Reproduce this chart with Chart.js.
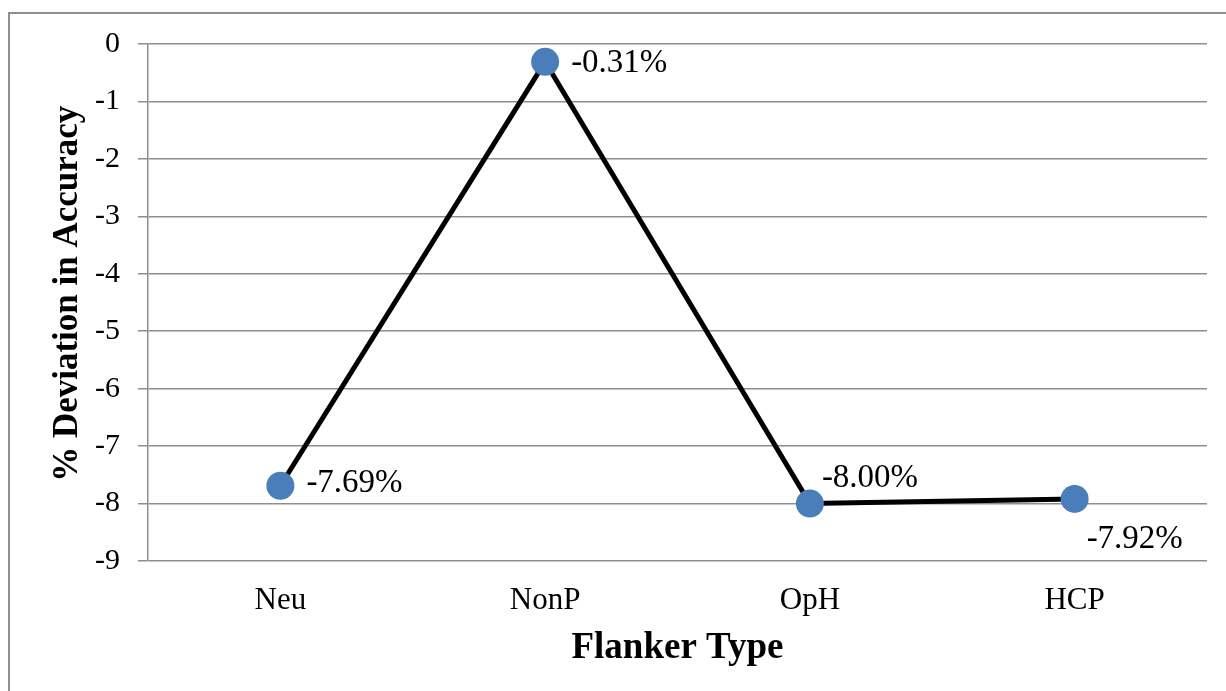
<!DOCTYPE html>
<html>
<head>
<meta charset="utf-8">
<script src="https://cdn.jsdelivr.net/npm/chart.js@4.4.1/dist/chart.umd.min.js"></script>
<style>
  html, body { margin: 0; padding: 0; background: #ffffff; overflow: hidden; }
  #frame {
    position: absolute; left: 8px; top: 12px; width: 1240px; height: 720px;
    border: 2px solid #8e8e8e; box-sizing: border-box;
  }
  #wrap { position: absolute; left: 0; top: 0; width: 1226px; height: 691px; }
</style>
</head>
<body>
<div id="frame"></div>
<div id="wrap"><canvas id="chart" width="1226" height="691"></canvas></div>
<script>
// Flanker types and the accuracy deviation (%) measured for each
const categories = ['Neu', 'NonP', 'OpH', 'HCP'];
const deviation = [-7.69, -0.31, -8.00, -7.92];
const yTicks = [0, -1, -2, -3, -4, -5, -6, -7, -8, -9];

// Where each value label sits relative to its point
const labelPlacement = ['right', 'right', 'above', 'below'];

const serif = "'Liberation Serif', 'Times New Roman', serif";

const valueLabels = {
  id: 'valueLabels',
  afterDatasetsDraw(chart) {
    const ctx = chart.ctx;
    const meta = chart.getDatasetMeta(0);
    ctx.save();
    ctx.font = '33px ' + serif;
    ctx.fillStyle = '#000000';
    ctx.textAlign = 'left';
    ctx.textBaseline = 'middle';
    meta.data.forEach((pt, i) => {
      const text = deviation[i].toFixed(2) + '%';
      let x = pt.x, y = pt.y;
      const where = labelPlacement[i];
      if (where === 'right') { x += 26; y += (i === 0 ? -2 : 2); }
      else if (where === 'above') { x += 12; y -= 25; }
      else { x += 12; y += 40; }
      ctx.fillText(text, x, y);
    });
    ctx.restore();
  }
};

new Chart(document.getElementById('chart'), {
  type: 'line',
  data: {
    labels: categories,
    datasets: [{
      data: deviation,
      borderColor: '#000000',
      borderWidth: 5,
      pointBackgroundColor: '#4a7ebb',
      pointBorderWidth: 0,
      pointRadius: 14,
      pointHoverRadius: 14,
      tension: 0,
      fill: false
    }]
  },
  options: {
    responsive: false,
    animation: false,
    events: [],
    layout: { padding: { left: 0, right: 19, top: 44, bottom: 20 } },
    plugins: { legend: { display: false }, tooltip: { enabled: false } },
    scales: {
      x: {
        offset: true,
        grid: { display: false, drawTicks: false },
        border: { display: false },
        ticks: { color: '#000000', font: { family: serif, size: 31 }, padding: 21 },
        title: {
          display: true, text: 'Flanker Type', color: '#000000',
          font: { family: serif, size: 37, weight: 'bold' },
          padding: { top: 0, bottom: 0 }
        },
        afterFit(s) { s.height = 110; }
      },
      y: {
        min: -9, max: 0,
        afterBuildTicks(s) { s.ticks = yTicks.map(v => ({ value: v })); },
        grid: { color: '#8e8e8e', lineWidth: 1.5, tickLength: 10 },
        border: { color: '#8e8e8e', width: 1.5 },
        ticks: { color: '#000000', font: { family: serif, size: 30 }, padding: 18 },
        title: {
          display: true, text: '  % Deviation in Accuracy', color: '#000000',
          font: { family: serif, size: 35, weight: 'bold' },
          padding: { top: 47, bottom: 0 }
        },
        afterFit(s) { s.width = 148; }
      }
    }
  },
  plugins: [valueLabels]
});
</script>
</body>
</html>
